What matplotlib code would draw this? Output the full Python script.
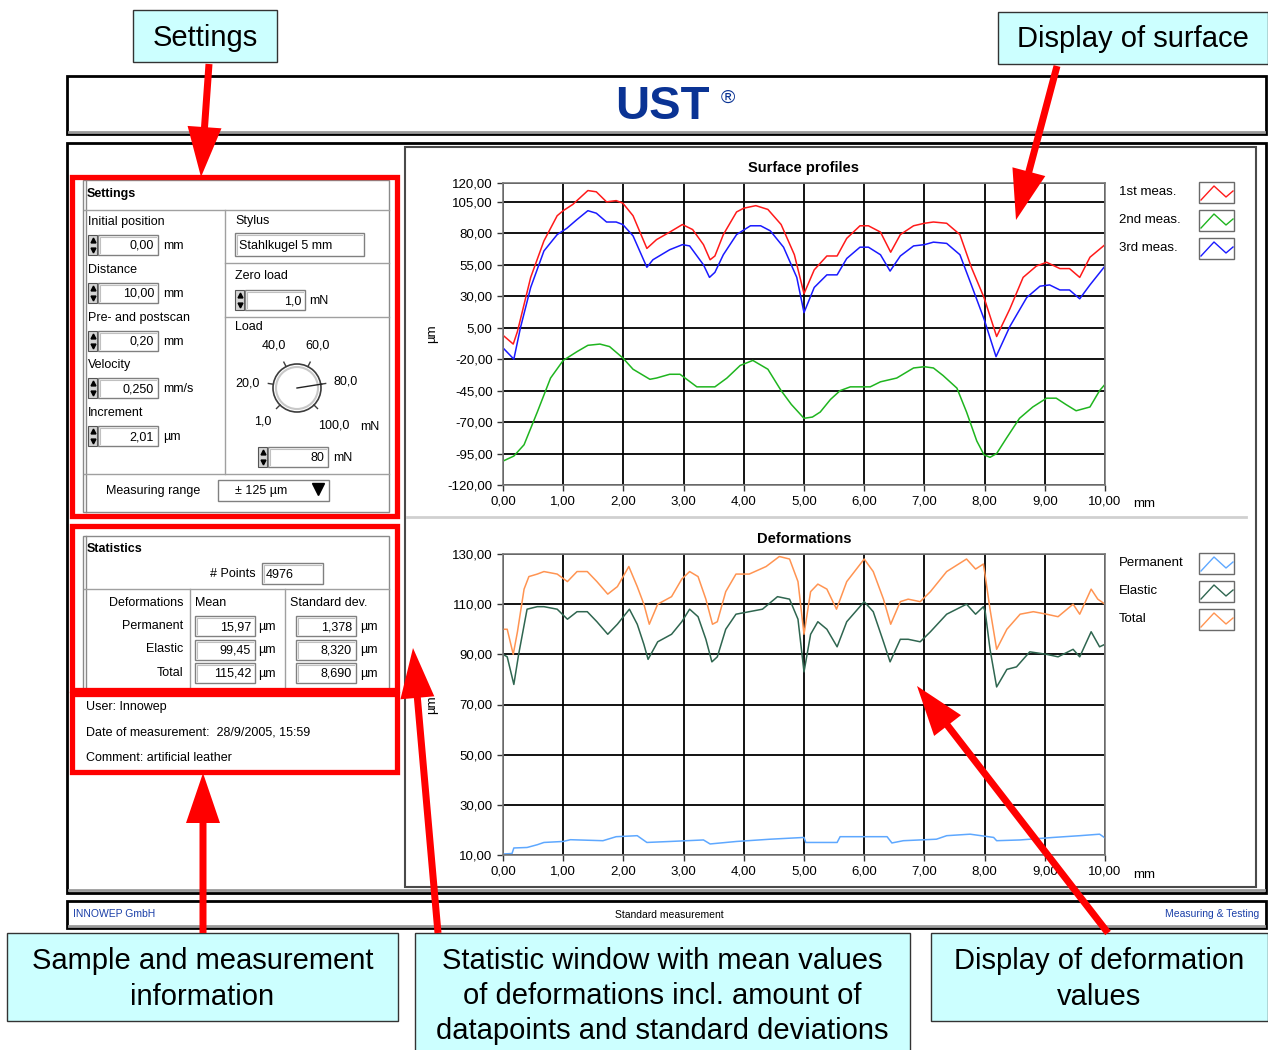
import matplotlib
matplotlib.use("Agg")
import matplotlib.pyplot as plt
from matplotlib.patches import Rectangle, FancyArrow, Circle
from matplotlib.ticker import FuncFormatter
import numpy as np

plt.rcParams['font.family'] = ['Liberation Sans', 'DejaVu Sans']

W, H = 1268, 1050

# ---- surface profiles (mm, µm) ----
prof1_x = [0.00, 0.17, 0.24, 0.46, 0.68, 0.90, 1.00, 1.16, 1.41, 1.55, 1.72, 1.88, 1.99, 2.16, 2.39,
           2.55, 2.77, 2.98, 3.15, 3.33, 3.44, 3.52, 3.66, 3.88, 4.00, 4.20, 4.40, 4.62, 4.84, 5.00,
           5.17, 5.38, 5.55, 5.71, 5.93, 6.07, 6.27, 6.44, 6.60, 6.82, 7.00, 7.15, 7.37, 7.59, 7.78,
           7.99, 8.20, 8.42, 8.64, 8.86, 9.03, 9.25, 9.41, 9.58, 9.75, 10.00]
prof1_y = [-1, -8, 2, 45, 74, 94, 98, 103, 114, 113, 105, 106, 104, 94, 68,
           75, 81, 87, 83, 71, 59, 62, 79, 97, 100, 102, 99, 87, 63, 32,
           51, 62, 62, 76, 86, 86, 81, 65, 79, 86, 88, 89, 88, 79, 53,
           29, -2, 20, 45, 54, 57, 52, 52, 45, 61, 71]

prof2_x = [0.00, 0.18, 0.35, 0.57, 0.79, 1.00, 1.23, 1.41, 1.61, 1.77, 1.99, 2.16, 2.44, 2.55, 2.77,
           2.94, 3.22, 3.52, 3.72, 3.94, 4.15, 4.40, 4.62, 4.79, 5.00, 5.14, 5.27, 5.44, 5.60, 5.77,
           6.10, 6.27, 6.54, 6.82, 7.00, 7.15, 7.31, 7.54, 7.70, 7.87, 7.99, 8.09, 8.20, 8.36, 8.58,
           8.80, 9.03, 9.19, 9.35, 9.52, 9.75, 9.91, 10.00]
prof2_y = [-101, -97, -88, -62, -35, -21, -14, -9, -8, -10, -19, -28, -36, -35, -32,
           -32, -42, -42, -35, -25, -21, -28, -45, -56, -67, -66, -62, -52, -45, -42,
           -42, -38, -35, -27, -26, -27, -33, -43, -62, -85, -96, -98, -95, -83, -67,
           -58, -51, -51, -56, -61, -58, -45, -40]

prof3_x = [0.00, 0.18, 0.29, 0.46, 0.68, 0.90, 1.06, 1.23, 1.41, 1.55, 1.72, 1.88, 1.99, 2.16, 2.39,
           2.49, 2.77, 2.98, 3.10, 3.33, 3.43, 3.52, 3.66, 3.88, 4.11, 4.28, 4.44, 4.66, 4.88, 5.00,
           5.17, 5.38, 5.55, 5.71, 5.93, 6.07, 6.27, 6.43, 6.60, 6.82, 7.00, 7.15, 7.37, 7.59, 7.78,
           7.99, 8.19, 8.42, 8.70, 8.92, 9.08, 9.25, 9.41, 9.58, 9.75, 10.00]
prof3_y = [-11, -20, 5, 37, 66, 79, 84, 91, 98, 96, 89, 89, 87, 78, 53,
           59, 67, 71, 70, 55, 45, 49, 63, 79, 86, 86, 82, 69, 45, 17,
           37, 47, 47, 60, 69, 69, 63, 50, 62, 70, 71, 73, 72, 63, 39,
           12, -18, 6, 29, 38, 39, 35, 35, 28, 39, 54]

# ---- deformations ----
perm_x = [0.00, 0.15, 0.18, 0.40, 0.57, 0.68, 1.00, 1.12, 1.66, 1.88, 2.23, 2.39, 2.78, 3.33, 3.44,
          3.88, 4.44, 5.00, 5.03, 5.55, 5.60, 6.38, 6.46, 6.65, 7.20, 7.37, 7.76, 8.15, 8.20, 8.59,
          9.14, 9.58, 9.91, 10.00]
perm_y = [10.4, 10.6, 12.8, 13.0, 14.1, 15.0, 15.4, 16.1, 15.7, 17.3, 17.7, 15.0, 15.4, 16.0, 14.4,
          15.4, 16.3, 17.0, 15.0, 15.0, 17.3, 17.3, 14.8, 15.7, 16.3, 17.7, 18.3, 17.0, 15.7, 16.0,
          17.0, 17.7, 18.3, 16.8]

elas_x = [0.00, 0.07, 0.18, 0.26, 0.40, 0.57, 0.68, 0.90, 1.07, 1.23, 1.40, 1.56, 1.74, 1.90, 2.10,
          2.23, 2.34, 2.41, 2.57, 2.80, 2.97, 3.10, 3.24, 3.37, 3.47, 3.56, 3.70, 3.87, 4.09, 4.31,
          4.56, 4.76, 4.90, 5.00, 5.11, 5.23, 5.38, 5.55, 5.71, 6.00, 6.15, 6.32, 6.43, 6.60, 6.73,
          6.93, 7.10, 7.37, 7.70, 7.85, 7.98, 8.01, 8.09, 8.20, 8.37, 8.53, 8.75, 9.03, 9.22, 9.47,
          9.58, 9.77, 9.91, 10.00]
elas_y = [90, 89, 78, 90, 108, 109, 109, 108, 104, 107, 107, 103, 98, 102, 108,
          102, 94, 88, 95, 98, 103, 108, 105, 96, 87, 89, 100, 106, 107, 108,
          113, 112, 104, 83, 98, 103, 100, 93, 103, 111, 107, 95, 87, 96, 96,
          95, 99, 106, 110, 106, 109, 107, 92, 77, 84, 85, 91, 90, 89, 92,
          89, 99, 93, 94]

total_x = [0.00, 0.07, 0.17, 0.24, 0.35, 0.43, 0.57, 0.68, 0.90, 1.07, 1.23, 1.40, 1.56, 1.74, 1.90,
           2.09, 2.23, 2.34, 2.43, 2.57, 2.80, 2.97, 3.10, 3.24, 3.37, 3.48, 3.56, 3.70, 3.87, 4.09,
           4.37, 4.59, 4.76, 4.90, 5.00, 5.11, 5.23, 5.38, 5.54, 5.71, 6.00, 6.15, 6.32, 6.44, 6.60,
           6.73, 6.93, 7.10, 7.37, 7.70, 7.85, 7.98, 8.00, 8.09, 8.20, 8.37, 8.59, 8.81, 9.03, 9.22,
           9.47, 9.58, 9.77, 9.88, 10.00]
total_y = [100, 100, 90, 99, 116, 121, 122, 123, 122, 119, 123, 123, 119, 114, 117,
           125, 117, 110, 102, 110, 113, 120, 123, 121, 112, 102, 103, 115, 122, 122,
           125, 129, 128, 119, 98, 115, 118, 116, 108, 119, 128, 123, 112, 102, 111,
           112, 111, 115, 123, 128, 124, 126, 123, 108, 92, 100, 106, 107, 106, 105,
           110, 106, 116, 112, 110]

prof_ticks = [120, 105, 80, 55, 30, 5, -20, -45, -70, -95, -120]
def_ticks = [130, 110, 90, 70, 50, 30, 10]
x_ticks = [0, 1, 2, 3, 4, 5, 6, 7, 8, 9, 10]
prof_names = ['1st meas.', '2nd meas.', '3rd meas.']
def_names = ['Permanent', 'Elastic', 'Total']

# ---- instrument panel texts ----
set_labels = ['Initial position', 'Distance', 'Pre- and postscan', 'Velocity', 'Increment']
set_values = ['0,00', '10,00', '0,20', '0,250', '2,01']
set_units = ['mm', 'mm', 'mm', 'mm/s', 'µm']
dial_labels = ['1,0', '20,0', '40,0', '60,0', '80,0', '100,0']
stat_rows = ['Permanent', 'Elastic', 'Total']
stat_mean = ['15,97', '99,45', '115,42']
stat_std = ['1,378', '8,320', '8,690']
info_lines = ['User: Innowep', 'Date of measurement:  28/9/2005, 15:59', 'Comment: artificial leather']

RED, GREEN, BLUE = '#ff1a1a', '#1fb51f', '#1a1aff'
C_PERM, C_ELAS, C_TOT = '#5ea8ff', '#2f6650', '#ff9452'
UI = 9

fig = plt.figure(figsize=(W / 100, H / 100), dpi=100)
bg = fig.add_axes([0, 0, 1, 1])
bg.set_xlim(0, W)
bg.set_ylim(H, 0)
bg.axis('off')


def box(ax, x0, y0, x1, y1, **kw):
    ax.add_patch(Rectangle((x0, y0), x1 - x0, y1 - y0, **kw))


def hline(y, x0, x1, c='#a0a0a0', lw=1):
    bg.plot([x0, x1], [y, y], color=c, lw=lw)


def vline(x, y0, y1, c='#a0a0a0', lw=1):
    bg.plot([x, x], [y0, y1], color=c, lw=lw)


def field(x0, y0, x1, y1, txt, left=False):
    box(bg, x0, y0, x1, y1, fc='white', ec='#808080', lw=1)
    bg.plot([x0 + 2, x0 + 2, x1 - 2], [y1 - 2, y0 + 2, y0 + 2], color='#c0c0c0', lw=0.8)
    if left:
        bg.text(x0 + 4, (y0 + y1) / 2 + 1, txt, ha='left', va='center', fontsize=UI)
    else:
        bg.text(x1 - 4, (y0 + y1) / 2 + 1, txt, ha='right', va='center', fontsize=UI)


def spinner(x, y0, y1):
    box(bg, x, y0, x + 9, y1, fc='#d4d4d4', ec='#555555', lw=0.8)
    bg.plot([x + 4.5], [y0 + 5], marker='^', ms=3.5, color='black')
    bg.plot([x + 4.5], [y1 - 5], marker='v', ms=3.5, color='black')


# ---- window frames ----
box(bg, 67, 76, 1266, 134, fc='white', ec='black', lw=2)
hline(132, 69, 1264, c='#9a9a9a', lw=2)
bg.text(662, 107, 'UST', ha='center', va='center', fontsize=34, fontweight='bold', color='#0a3394')
bg.text(728, 98, '®', ha='center', va='center', fontsize=14, color='#0a3394')

box(bg, 67, 143, 1266, 893, fc='white', ec='black', lw=2)
hline(890, 69, 1264, c='#9a9a9a', lw=2)

box(bg, 67, 901, 1266, 928, fc='white', ec='black', lw=2)
hline(926, 69, 1264, c='#9a9a9a', lw=2)
bg.text(73, 914, 'INNOWEP GmbH', ha='left', va='center', fontsize=7.5, color='#1a3fa8')
bg.text(669, 915, 'Standard measurement', ha='center', va='center', fontsize=7.5)
bg.text(1259, 914, 'Measuring & Testing', ha='right', va='center', fontsize=7.5, color='#1a3fa8')

# chart panel
box(bg, 405, 147, 1256, 887, fc='white', ec='#4a4a4a', lw=1.5)
grad = np.linspace(0, 1, 12)[None, :]
bg.imshow(grad, cmap='Greys', vmin=-0.6, vmax=1.6, extent=(1246, 1256, 886, 148), aspect='auto')
hline(517, 407, 1246, c='#d0d0d0', lw=2)
bg.set_xlim(0, W)
bg.set_ylim(H, 0)

# ---- settings panel ----
box(bg, 83, 180, 389, 512, fc='white', ec='#8a8a8a', lw=1)
vline(86, 180, 512, c='#8a8a8a')
bg.text(87, 194, 'Settings', ha='left', va='center', fontsize=UI, fontweight='bold')
hline(210, 84, 389)
vline(225, 210, 474)
hline(263, 225, 389)
hline(317, 225, 389)
hline(474, 84, 389)

for i, (lab, val, unit) in enumerate(zip(set_labels, set_values, set_units)):
    yl = 222 + i * 47.8
    yf = yl + 23
    bg.text(88, yl, lab, ha='left', va='center', fontsize=UI)
    spinner(88, yf - 10, yf + 10)
    field(98, yf - 10, 158, yf + 10, val)
    bg.text(163, yf + 1, unit, ha='left', va='center', fontsize=UI)

bg.text(235, 221, 'Stylus', ha='left', va='center', fontsize=UI)
field(235, 233, 364, 256, 'Stahlkugel 5 mm', left=True)
bg.text(235, 276, 'Zero load', ha='left', va='center', fontsize=UI)
spinner(235, 290, 310)
field(245, 290, 305, 310, '1,0')
bg.text(309, 301, 'mN', ha='left', va='center', fontsize=UI)
bg.text(235, 327, 'Load', ha='left', va='center', fontsize=UI)

# load dial
cx, cy, r = 297, 388, 24
bg.add_patch(Circle((cx, cy), r, fc='white', ec='#3c3c3c', lw=1.2))
bg.add_patch(Circle((cx, cy), r - 3, fc='white', ec='#c8c8c8', lw=1.5))
angles = np.radians(np.linspace(225, -45, len(dial_labels)))
for a in angles:
    bg.plot([cx + r * np.cos(a), cx + (r + 5) * np.cos(a)],
            [cy - r * np.sin(a), cy - (r + 5) * np.sin(a)], color='#3c3c3c', lw=1)
label_pos = [(263, 422), (248, 383), (274, 346), (318, 345), (346, 382), (334, 426)]
for lab, (lx, ly) in zip(dial_labels, label_pos):
    bg.text(lx, ly, lab, ha='center', va='center', fontsize=UI)
bg.text(370, 427, 'mN', ha='center', va='center', fontsize=UI)
a80 = angles[4]
bg.plot([cx, cx + (r + 1) * np.cos(a80)], [cy, cy - (r + 1) * np.sin(a80)], color='#222222', lw=1)
spinner(258, 447, 467)
field(268, 447, 328, 467, '80')
bg.text(333, 458, 'mN', ha='left', va='center', fontsize=UI)

bg.text(106, 491, 'Measuring range', ha='left', va='center', fontsize=UI)
box(bg, 218, 480, 329, 501, fc='white', ec='#808080', lw=1)
bg.text(261, 491, '± 125 µm', ha='center', va='center', fontsize=UI)
bg.plot([318], [489], marker='v', ms=9, color='black')

# ---- statistics panel ----
box(bg, 83, 536, 389, 700, fc='white', ec='#8a8a8a', lw=1)
vline(86, 536, 690, c='#8a8a8a')
bg.text(87, 549, 'Statistics', ha='left', va='center', fontsize=UI, fontweight='bold')
bg.text(256, 574, '# Points', ha='right', va='center', fontsize=UI)
field(262, 563, 323, 584, '4976', left=True)
hline(589, 84, 389)
vline(190, 589, 690)
vline(285, 589, 690)
bg.text(183, 603, 'Deformations', ha='right', va='center', fontsize=UI)
bg.text(195, 603, 'Mean', ha='left', va='center', fontsize=UI)
bg.text(290, 603, 'Standard dev.', ha='left', va='center', fontsize=UI)
for i, (lab, m, s) in enumerate(zip(stat_rows, stat_mean, stat_std)):
    yc = 626 + i * 23.5
    bg.text(183, yc, lab, ha='right', va='center', fontsize=UI)
    field(195, yc - 10, 255, yc + 10, m)
    bg.text(258, yc + 1, 'µm', ha='left', va='center', fontsize=UI)
    field(296, yc - 10, 356, yc + 10, s)
    bg.text(360, yc + 1, 'µm', ha='left', va='center', fontsize=UI)

box(bg, 74, 694, 396, 772, fc='white', ec='none')
for i, line in enumerate(info_lines):
    bg.text(86, 707 + i * 25.5, line, ha='left', va='center', fontsize=UI)


# ---- charts ----
def px_axes(x0, y0, x1, y1):
    return fig.add_axes([x0 / W, 1 - y1 / H, (x1 - x0) / W, (y1 - y0) / H])


comma = FuncFormatter(lambda v, p: ('%.2f' % v).replace('.', ','))


def style(ax, yticks, ylim, title):
    ax.set_xlim(0, 10)
    ax.set_ylim(*ylim)
    ax.set_xticks(x_ticks)
    ax.set_yticks(yticks)
    ax.xaxis.set_major_formatter(comma)
    ax.yaxis.set_major_formatter(comma)
    ax.set_axisbelow(True)
    ax.grid(True, color='black', lw=1.3)
    ax.tick_params(direction='out', length=4.5, width=1, color='#333333', labelsize=9.5, pad=3)
    for sp in ax.spines.values():
        sp.set_color('#7a7a7a')
        sp.set_linewidth(1.2)
    ax.set_title(title, fontsize=10.5, fontweight='bold', pad=8)
    ax.set_ylabel('µm', fontsize=9.5)
    ax.yaxis.set_label_coords(-0.108, 0.5)


ax1 = px_axes(503, 183, 1105, 485)
ax1.plot(prof1_x, prof1_y, color=RED, lw=1.1)
ax1.plot(prof2_x, prof2_y, color=GREEN, lw=1.1)
ax1.plot(prof3_x, prof3_y, color=BLUE, lw=1.1)
style(ax1, prof_ticks, (-120, 120), 'Surface profiles')

ax2 = px_axes(503, 554, 1105, 855)
ax2.plot(perm_x, perm_y, color=C_PERM, lw=1.1)
ax2.plot(elas_x, elas_y, color=C_ELAS, lw=1.1)
ax2.plot(total_x, total_y, color=C_TOT, lw=1.1)
style(ax2, def_ticks, (10, 130), 'Deformations')

bg.text(1133, 504, 'mm', ha='left', va='center', fontsize=9.5)
bg.text(1133, 875, 'mm', ha='left', va='center', fontsize=9.5)

# legends drawn as in the instrument software
zig_x = [1201, 1214, 1226, 1233]
zig_dy = [8, -6, 5, -1]
for names, colors, y0 in [(prof_names, [RED, GREEN, BLUE], 192),
                          (def_names, [C_PERM, C_ELAS, C_TOT], 563)]:
    for i, (nm, c) in enumerate(zip(names, colors)):
        yc = y0 + i * 28
        bg.text(1119, yc, nm, ha='left', va='center', fontsize=9.5)
        box(bg, 1199, yc - 10, 1234, yc + 11, fc='white', ec='#6a6a6a', lw=1, zorder=3)
        bg.plot(zig_x, [yc + d for d in zig_dy], color=c, lw=1, zorder=4)

# ---- overlay: callouts ----
ov = fig.add_axes([0, 0, 1, 1])
ov.set_xlim(0, W)
ov.set_ylim(H, 0)
ov.axis('off')
ov.patch.set_alpha(0)

for x0, y0, x1, y1 in [(72, 177, 397, 516), (72, 526, 397, 690), (72, 694, 397, 772)]:
    box(ov, x0, y0, x1, y1, fc='none', ec='#ff0000', lw=3.8)

callouts = [
    (133, 10, 277, 62, 'Settings', 38),
    (998, 12, 1268, 64, 'Display of surface', 39),
    (7, 933, 398, 1021, 'Sample and measurement\ninformation', 979),
    (415, 933, 910, 1060, 'Statistic window with mean values\nof deformations incl. amount of\ndatapoints and standard deviations', 996),
    (931, 933, 1268, 1021, 'Display of deformation\nvalues', 979),
]
for x0, y0, x1, y1, txt, yc in callouts:
    box(ov, x0, y0, x1, y1, fc='#ccffff', ec='#333333', lw=1)
    ov.text((x0 + x1) / 2, yc, txt, ha='center', va='center', fontsize=21,
            linespacing=1.32)

arrows = [((209, 64), (201, 177)), ((1057, 66), (1016, 220)), ((203, 933), (203, 773)),
          ((438, 933), (413, 648)), ((1108, 933), (917, 686))]
for (sx, sy), (tx, ty) in arrows:
    ov.add_patch(FancyArrow(sx, sy, tx - sx, ty - sy, width=7, head_width=34, head_length=50,
                            length_includes_head=True, color='#ff0000', lw=0))

fig.savefig('out.png', dpi=100)
